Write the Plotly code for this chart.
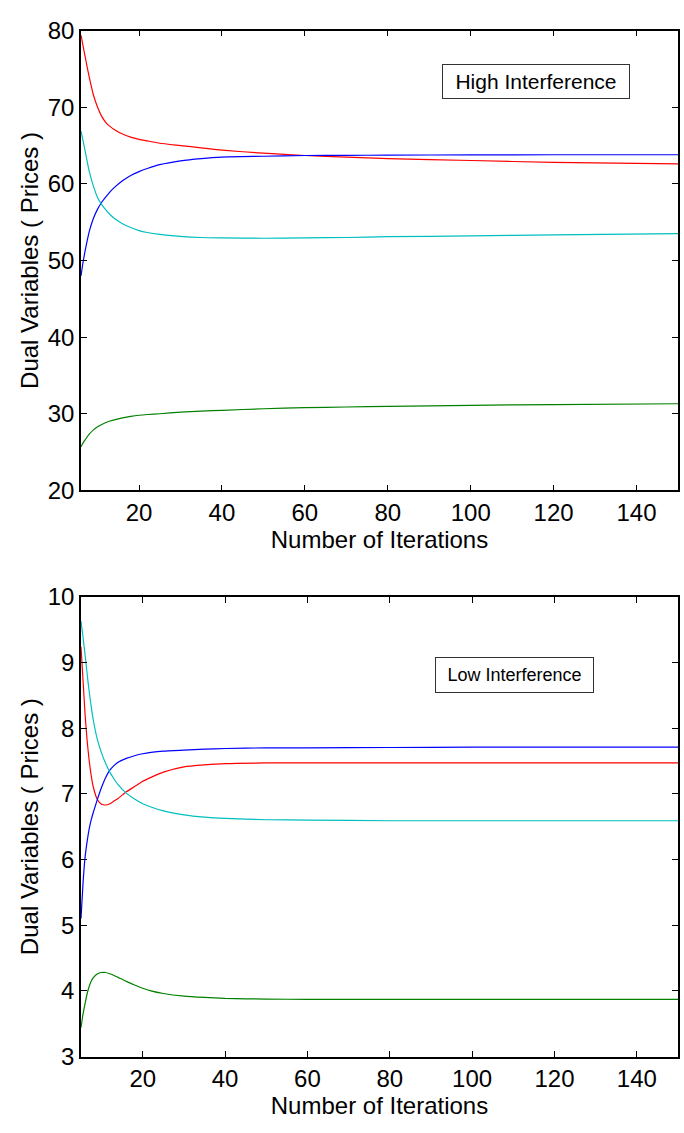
import plotly.graph_objects as go
from plotly.subplots import make_subplots

# ---- High interference run: dual variables (prices) per iteration ----
iters_high = [6, 6.5, 7, 7.5, 8, 9, 10, 11, 12, 13, 14, 16, 18, 20, 22, 25, 30, 35, 40, 50,
              60, 70, 80, 100, 120, 150]
high_red = [79.4, 78.0, 76.6, 75.2, 73.9, 71.6, 70.0, 68.8, 68.0, 67.5, 67.1, 66.5, 66.1, 65.8,
            65.6, 65.3, 65.0, 64.7, 64.4, 64.0, 63.7, 63.5, 63.3, 63.05, 62.8, 62.6]
high_blue = [48.0, 49.8, 51.3, 52.6, 53.8, 55.5, 56.7, 57.6, 58.3, 58.95, 59.5, 60.4, 61.1, 61.6,
             62.0, 62.5, 63.0, 63.3, 63.5, 63.6, 63.7, 63.72, 63.75, 63.78, 63.8, 63.8]
high_cyan = [66.9, 65.6, 64.3, 62.9, 61.6, 59.7, 58.2, 57.3, 56.6, 56.0, 55.5, 54.8, 54.3, 53.9,
             53.65, 53.4, 53.15, 53.0, 52.95, 52.9, 52.95, 53.0, 53.1, 53.2, 53.35, 53.5]
high_green = [25.7, 26.2, 26.6, 27.0, 27.35, 27.9, 28.3, 28.6, 28.85, 29.05, 29.2, 29.45, 29.65,
              29.8, 29.9, 30.0, 30.2, 30.35, 30.45, 30.65, 30.8, 30.88, 30.95, 31.1, 31.2, 31.3]

# ---- Low interference run ----
iters_low = [5, 5.5, 6, 6.5, 7, 7.5, 8, 9, 10, 11, 12, 13, 14, 16, 18, 20, 22, 25, 30, 35, 40,
             50, 60, 80, 100, 150]
low_red = [9.24, 8.72, 8.2, 7.8, 7.5, 7.27, 7.1, 6.91, 6.84, 6.83, 6.85, 6.89, 6.93, 7.03, 7.11,
           7.19, 7.25, 7.33, 7.41, 7.44, 7.46, 7.47, 7.47, 7.47, 7.47, 7.47]
low_blue = [5.1, 5.65, 6.04, 6.28, 6.47, 6.61, 6.72, 6.92, 7.10, 7.25, 7.36, 7.43, 7.48, 7.54,
            7.58, 7.61, 7.63, 7.65, 7.665, 7.68, 7.69, 7.70, 7.70, 7.705, 7.71, 7.71]
low_cyan = [9.63, 9.38, 9.11, 8.82, 8.55, 8.32, 8.12, 7.82, 7.62, 7.46, 7.33, 7.23, 7.14, 7.01,
            6.92, 6.85, 6.80, 6.74, 6.68, 6.645, 6.625, 6.605, 6.60, 6.59, 6.59, 6.59]
low_green = [3.44, 3.65, 3.81, 3.96, 4.07, 4.15, 4.20, 4.26, 4.28, 4.28, 4.26, 4.235, 4.205, 4.145,
             4.09, 4.04, 4.00, 3.96, 3.92, 3.90, 3.885, 3.875, 3.87, 3.87, 3.87, 3.87]

x_ticks = [20, 40, 60, 80, 100, 120, 140]
high_yticks = [20, 30, 40, 50, 60, 70, 80]
low_yticks = [3, 4, 5, 6, 7, 8, 9, 10]

colors = {"red": "#ff0000", "blue": "#0000ff", "cyan": "#00bfbf", "green": "#008000"}

W, H = 684, 1133
fig = make_subplots(rows=2, cols=1)

for row, xs, series in [
    (1, iters_high, [("red", high_red), ("blue", high_blue), ("cyan", high_cyan), ("green", high_green)]),
    (2, iters_low, [("red", low_red), ("blue", low_blue), ("cyan", low_cyan), ("green", low_green)]),
]:
    for name, ys in series:
        fig.add_trace(
            go.Scatter(x=xs, y=ys, mode="lines", showlegend=False,
                       line=dict(color=colors[name], width=1.2, shape="spline", smoothing=0.5)),
            row=row, col=1,
        )

font_main = dict(family="Liberation Sans, Arial, sans-serif", size=24, color="black")
axis_common = dict(showline=True, linecolor="black", linewidth=1.5, mirror="ticks",
                   ticks="inside", ticklen=6, tickcolor="black", showgrid=False, zeroline=False,
                   tickfont=font_main)

x_dom = [81 / W, 678 / W]
fig.update_layout(
    width=W, height=H, margin=dict(l=0, r=0, t=0, b=0),
    paper_bgcolor="white", plot_bgcolor="white",
    xaxis=dict(domain=x_dom, range=[6, 150], tickvals=x_ticks, **axis_common,
               title=dict(text="Number of Iterations", font=font_main, standoff=0)),
    yaxis=dict(domain=[1 - 488 / H, 1 - 17 / H], range=[20, 80], tickvals=high_yticks, **axis_common,
               title=dict(text="Dual Variables ( Prices )", font=font_main, standoff=2)),
    xaxis2=dict(domain=x_dom, range=[5, 150], tickvals=x_ticks, **axis_common,
                title=dict(text="Number of Iterations", font=font_main, standoff=0)),
    yaxis2=dict(domain=[1 - 1068 / H, 1 - 597 / H], range=[3, 10], tickvals=low_yticks, **axis_common,
                title=dict(text="Dual Variables ( Prices )", font=font_main, standoff=2)),
)

fig.add_annotation(xref="paper", yref="paper", x=536 / W, y=1 - 69 / H, xanchor="center", yanchor="middle",
                   text="High Interference", showarrow=False,
                   font=dict(family="Liberation Sans, Arial, sans-serif", size=21, color="black"),
                   bordercolor="#333333", borderwidth=1, borderpad=5, bgcolor="white", width=176)
fig.add_annotation(xref="paper", yref="paper", x=514 / W, y=1 - 677 / H, xanchor="center", yanchor="middle",
                   text="Low Interference", showarrow=False,
                   font=dict(family="Liberation Sans, Arial, sans-serif", size=18, color="black"),
                   bordercolor="#333333", borderwidth=1, borderpad=7, bgcolor="white", width=143)

fig.write_html("out.html")
